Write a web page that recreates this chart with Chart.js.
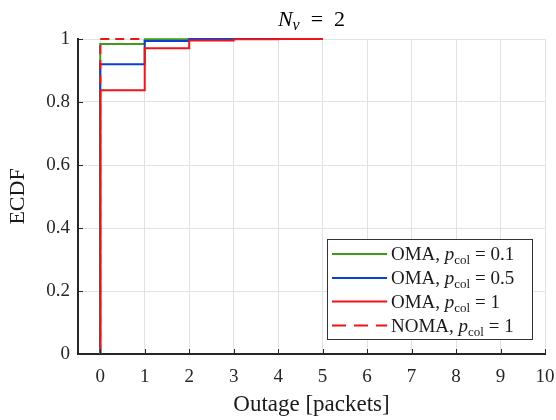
<!DOCTYPE html>
<html>
<head>
<meta charset="utf-8">
<script src="https://cdn.jsdelivr.net/npm/chart.js@4/dist/chart.umd.min.js"></script>
<style>
  html, body { margin: 0; padding: 0; background: #ffffff; }
  #wrap { width: 556px; height: 420px; position: relative; }
</style>
</head>
<body>
<div id="wrap"><canvas id="c" width="556" height="420"></canvas></div>
<script>
// ---- data ----
const outage = [0, 1, 2, 3, 4, 5];               // outage [packets]
const ecdfOma01 = [0.984, 0.999, 1, 1, 1, 1];     // OMA, p_col = 0.1
const ecdfOma05 = [0.920, 0.994, 1, 1, 1, 1];     // OMA, p_col = 0.5
const ecdfOma1  = [0.837, 0.971, 0.995, 0.999, 1, 1]; // OMA, p_col = 1
const outageNoma = [0, 1];
const ecdfNoma1 = [1, 1];                         // NOMA, p_col = 1
const xTicks = [0, 1, 2, 3, 4, 5, 6, 7, 8, 9, 10];
const yTicks = [0, 0.2, 0.4, 0.6, 0.8, 1];
const yTickLabels = ['0', '0.2', '0.4', '0.6', '0.8', '1'];
const seriesNames = ['OMA', 'OMA', 'OMA', 'NOMA'];
const pcolValues = ['0.1', '0.5', '1', '1'];

const GREEN = '#3f9b1b', BLUE = '#0b3fd3', RED = '#f01418';
const SERIF = '"Liberation Serif", "DejaVu Serif", serif';
const EQ = '\u2002=\u2002';

function ecdfPoints(xs, ys) {
  // ECDF starts from 0 at the first outage value
  const pts = [{ x: xs[0], y: 0 }];
  xs.forEach((x, i) => pts.push({ x: x, y: ys[i] }));
  return pts;
}

const styles = [
  { color: GREEN, dash: [], legendDash: [] },
  { color: BLUE, dash: [], legendDash: [] },
  { color: RED, dash: [], legendDash: [] },
  { color: RED, dash: [9, 6], legendDash: [14, 8] }
];

const datasets = [
  ecdfPoints(outage, ecdfOma01),
  ecdfPoints(outage, ecdfOma05),
  ecdfPoints(outage, ecdfOma1),
  ecdfPoints(outageNoma, ecdfNoma1)
].map((pts, i) => ({
  label: seriesNames[i] + ', p_col = ' + pcolValues[i],
  data: pts,
  order: 3 - i,            // later series drawn on top, as in the reference
  borderColor: styles[i].color,
  borderDash: styles[i].dash,
  borderWidth: 2,
  pointRadius: 0,
  fill: false,
  clip: false,
  stepped: 'before',
  tension: 0
}));

// draws text with italic symbol + subscript
function drawMath(ctx, parts, x, y, align) {
  let total = 0;
  parts.forEach(p => { ctx.font = p.style + ' ' + p.size + 'px ' + SERIF; p.w = ctx.measureText(p.t).width; total += p.w; });
  let cx = align === 'center' ? x - total / 2 : x;
  ctx.textBaseline = 'alphabetic';
  ctx.textAlign = 'left';
  parts.forEach(p => {
    ctx.font = p.style + ' ' + p.size + 'px ' + SERIF;
    ctx.fillText(p.t, cx, y + (p.dy || 0));
    cx += p.w;
  });
}

const decor = {
  id: 'decor',
  afterDraw(chart) {
    const ctx = chart.ctx;
    const xs = chart.scales.x, ys = chart.scales.y;
    const area = chart.chartArea;
    ctx.save();
    // inward tick marks
    ctx.strokeStyle = '#262626';
    ctx.lineWidth = 1;
    ctx.beginPath();
    xTicks.forEach(v => {
      const px = Math.round(xs.getPixelForValue(v)) + 0.5;
      ctx.moveTo(px, area.bottom);
      ctx.lineTo(px, area.bottom - 5);
    });
    yTicks.forEach(v => {
      const py = Math.round(ys.getPixelForValue(v)) + 0.5;
      ctx.moveTo(area.left, py);
      ctx.lineTo(area.left + 5, py);
    });
    ctx.stroke();

    // title N_v = 2
    ctx.fillStyle = '#000';
    drawMath(ctx, [
      { t: 'N', style: 'italic', size: 22 },
      { t: 'v', style: 'italic', size: 16, dy: 4 },
      { t: EQ + '2', style: 'normal', size: 22 }
    ], (area.left + area.right) / 2, 26, 'center');

    // legend
    const lx = 327, ly = 239, lw = 205, lh = 100;
    ctx.fillStyle = '#ffffff';
    ctx.fillRect(lx, ly, lw, lh);
    ctx.strokeStyle = '#333333';
    ctx.lineWidth = 1;
    ctx.strokeRect(lx + 0.5, ly + 0.5, lw, lh);
    const rowY = [254, 278, 301.5, 325.5];
    chart.data.datasets.forEach((ds, i) => {
      const y = rowY[i];
      ctx.strokeStyle = ds.borderColor;
      ctx.lineWidth = 2;
      ctx.setLineDash(styles[i].legendDash);
      ctx.beginPath();
      ctx.moveTo(332, y);
      ctx.lineTo(387, y);
      ctx.stroke();
      ctx.setLineDash([]);
      ctx.fillStyle = '#1a1a1a';
      drawMath(ctx, [
        { t: seriesNames[i] + ', ', style: 'normal', size: 19 },
        { t: 'p', style: 'italic', size: 19 },
        { t: 'col', style: 'normal', size: 13, dy: 4 },
        { t: ' = ' + pcolValues[i], style: 'normal', size: 19 }
      ], 391, y + 6, 'left');
    });
    ctx.restore();
  }
};

new Chart(document.getElementById('c'), {
  type: 'line',
  data: { datasets: datasets },
  options: {
    responsive: false,
    animation: false,
    devicePixelRatio: 1,
    layout: { padding: { left: 0, top: 39, right: 11, bottom: 0 } },
    plugins: { legend: { display: false }, tooltip: { enabled: false }, title: { display: false } },
    scales: {
      x: {
        type: 'linear',
        min: -0.5,
        max: 10,
        afterBuildTicks: s => { s.ticks = xTicks.map(v => ({ value: v })); },
        afterFit: s => { s.height = 66; s.paddingLeft = 0; s.paddingRight = 0; },
        ticks: { color: '#262626', padding: 12, font: { family: SERIF, size: 19 }, maxRotation: 0, autoSkip: false },
        grid: { color: '#e2e2e2', lineWidth: 1, drawTicks: false },
        border: { display: true, color: '#262626', width: 2 },
        title: { display: true, text: 'Outage [packets]', color: '#1a1a1a', font: { family: SERIF, size: 23 }, padding: { top: 0, bottom: 1 } }
      },
      y: {
        type: 'linear',
        min: 0,
        max: 1,
        afterBuildTicks: s => { s.ticks = yTicks.map(v => ({ value: v })); },
        afterFit: s => { s.width = 78; s.paddingTop = 0; s.paddingBottom = 0; },
        ticks: {
          color: '#262626', padding: 8, font: { family: SERIF, size: 19 },
          callback: (v) => { const k = yTicks.indexOf(v); return k >= 0 ? yTickLabels[k] : ''; }
        },
        grid: { color: '#e2e2e2', lineWidth: 1, drawTicks: false },
        border: { display: true, color: '#262626', width: 2 },
        title: { display: true, text: 'ECDF', color: '#1a1a1a', font: { family: SERIF, size: 22 }, padding: { top: 5, bottom: 0 } }
      }
    }
  },
  plugins: [decor]
});
</script>
</body>
</html>
